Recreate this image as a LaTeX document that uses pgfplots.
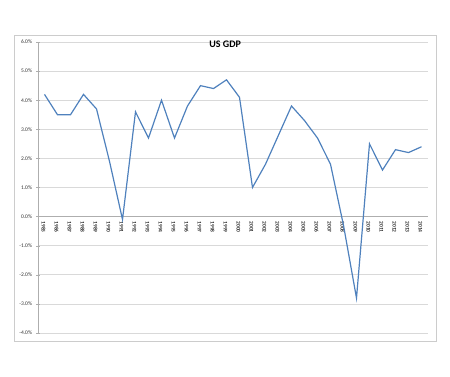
\documentclass[border=0pt]{standalone}
\usepackage{pgfplots}
\pgfplotsset{compat=1.18}
\usepackage{fontspec}
\setmainfont{Carlito}
\definecolor{exblue}{RGB}{79,129,189}
\definecolor{gridgray}{RGB}{217,217,217}
\begin{document}
\begin{tikzpicture}[x=1pt,y=1pt]
\path[use as bounding box] (0,0) rectangle (450,377);
\draw[gray!40, line width=0.8pt] (14,36) rectangle (436,342);
\begin{axis}[
  at={(38pt,44pt)}, anchor=south west,
  width=390pt, height=291pt, scale only axis,
  xmin=-0.5, xmax=29.5, ymin=-4, ymax=6,
  axis x line=middle, axis y line=left,
  axis line style={-, gridgray!80!black, line width=0.6pt},
  ytick={-4,...,6},
  ymajorgrids, grid style={gridgray, line width=0.7pt},
  yticklabel={\pgfmathprintnumber[fixed,fixed zerofill,precision=1]{\tick}\%},
  /pgf/number format/assume math mode=true,
  yticklabel style={font=\fontsize{5.5}{6}\selectfont, text=black!80, xshift=-1pt},
  ytick style={gridgray!80!black},
  major tick length=3pt,
  xtick={0,...,29},
  xticklabels={1985,1986,1987,1988,1989,1990,1991,1992,1993,1994,1995,1996,1997,1998,1999,2000,2001,2002,2003,2004,2005,2006,2007,2008,2009,2010,2011,2012,2013,2014},
  xticklabel style={rotate=-90, anchor=west, font=\bfseries\fontsize{5.5}{6}\selectfont, text=black!80, xshift=0pt, yshift=-1pt},
  x tick style={draw=none},
  minor xtick={-0.5,0.5,...,29.5},
  minor x tick style={gridgray!80!black},
  minor tick length=3pt,
  tick align=center,
  title={US GDP},
  title style={at={(axis description cs:0.48,0.972)}, anchor=center, font=\bfseries\fontsize{10}{12}\selectfont},
  clip=false,
]
\addplot[exblue, line width=1.2pt, mark=none] coordinates {
(0,4.2) (1,3.5) (2,3.5) (3,4.2) (4,3.7) (5,1.9) (6,-0.1) (7,3.6) (8,2.7) (9,4.0)
(10,2.7) (11,3.8) (12,4.5) (13,4.4) (14,4.7) (15,4.1) (16,1.0) (17,1.8) (18,2.8) (19,3.8)
(20,3.3) (21,2.7) (22,1.8) (23,-0.3) (24,-2.8) (25,2.5) (26,1.6) (27,2.3) (28,2.2) (29,2.4)
};
\end{axis}
\end{tikzpicture}
\end{document}
